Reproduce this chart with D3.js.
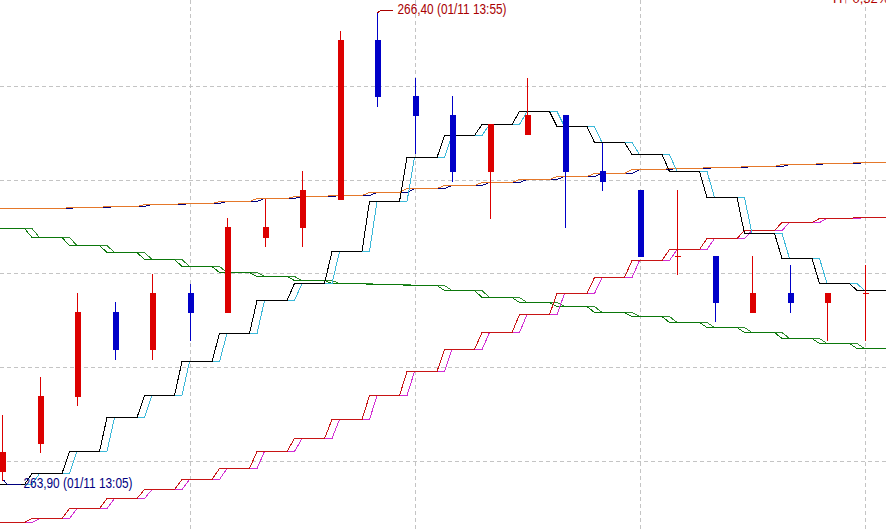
<!DOCTYPE html>
<html>
<head>
<meta charset="utf-8">
<script src="https://cdn.jsdelivr.net/npm/d3@7"></script>
<style>
  body { margin: 0; background: #fff; }
  svg { display: block; }
</style>
</head>
<body>
<svg id="chart"></svg>
<script>
// 5 min candles, 01/11
var times = ["13:05","13:10","13:15","13:20","13:25","13:30","13:35","13:40","13:45","13:50","13:55","14:00",
             "14:05","14:10","14:15","14:20","14:25","14:30","14:35","14:40","14:45","14:50","14:55","15:00"];

var open_prices  = [263.95,264.10,264.35,264.80,264.60,264.90,264.80,265.20,265.25,265.40,266.25,265.95,
                    265.85,265.55,265.75,265.85,265.55,265.45,265.10,265.10,264.80,264.90,264.85,264.90];
var high_prices  = [264.25,264.45,264.90,264.85,265.00,264.95,265.30,265.40,265.55,266.30,266.40,266.05,
                    265.95,265.80,266.05,265.85,265.70,265.45,265.45,265.10,265.10,265.05,264.90,265.05];
var low_prices   = [263.90,264.05,264.30,264.55,264.55,264.65,264.80,265.15,265.15,265.40,265.90,265.65,
                    265.50,265.30,265.75,265.25,265.45,265.10,265.00,264.75,264.80,264.80,264.65,264.65];
var close_prices = [264.05,264.35,264.80,264.60,264.90,264.80,265.25,265.25,265.45,266.25,265.95,265.85,
                    265.55,265.80,265.85,265.55,265.50,265.10,265.10,264.85,264.90,264.85,264.90,264.90];

// indicator lines (each drawn twice, the second one lagging)
var base_line   = [263.880,263.939,264.056,264.238,264.355,264.537,264.686,264.862,264.953,265.124,265.391,265.626,
                   265.744,265.802,265.872,265.792,265.706,265.642,265.551,265.413,265.220,265.087,264.953,264.916];
var orange_line = [265.352,265.352,265.358,265.366,265.375,265.382,265.390,265.406,265.418,265.423,265.441,265.458,
                   265.474,265.493,265.511,265.527,265.542,265.562,265.567,265.574,265.580,265.589,265.596,265.600];
var green_line  = [265.249,265.197,265.156,265.120,265.080,265.044,265.014,264.991,264.967,264.952,264.948,264.944,
                   264.916,264.880,264.853,264.830,264.800,264.777,264.747,264.720,264.692,264.661,264.634,264.605];
var red_line    = [263.677,263.697,263.750,263.807,263.853,263.907,263.964,264.058,264.128,264.225,264.355,264.483,
                   264.599,264.693,264.786,264.898,264.987,265.076,265.133,265.192,265.236,265.277,265.298,265.306];

var grid_prices = [264.0, 264.5, 265.0, 265.5, 266.0];
var grid_times = ["13:30", "14:00", "14:30", "15:00"];
var date_label = "01/11";
var corner_label = "H\u2191  0,32%";

var width = 886, height = 531;

var svg = d3.select("#chart").attr("width", width).attr("height", height);
svg.append("rect").attr("width", width).attr("height", height).attr("fill", "#fff");

var x = d3.scalePoint().domain(times).range([2.5, 865]);
var y = d3.scaleLinear().domain([264, 266]).range([461.5, 87]);

function cx(t) { return Math.floor(x(t)) + 0.5; }
function py(v) { return Math.round(y(v)) + 0.5; }

//grid
svg.append("g").selectAll("line")
    .data(grid_prices)
    .join("line")
    .attr("x1", 0).attr("x2", width)
    .attr("y1", d => Math.round(y(d)) - 0.5)
    .attr("y2", d => Math.round(y(d)) - 0.5)
    .attr("stroke", "#c4c4c4")
    .attr("stroke-dasharray", "4,3");

svg.append("g").selectAll("line")
    .data(grid_times)
    .join("line")
    .attr("x1", d => cx(d)).attr("x2", d => cx(d))
    .attr("y1", 0).attr("y2", height)
    .attr("stroke", "#c4c4c4")
    .attr("stroke-dasharray", "4,3");

//step lines: flat over each candle, short slope to the next one
function step_path(values, shift) {
    var d = "";
    values.forEach(function(v, k) {
        var xc = x(times[k]);
        var yy = py(v);
        if (k === 0) {
            d += "M" + (xc - 40 + shift) + "," + yy;
        } else {
            d += "L" + (xc - 8 + shift) + "," + yy;
        }
        d += "H" + (k === values.length - 1 ? width + 10 : xc + 22 + shift);
    });
    return d;
}

var line_defs = [
    {values: green_line,  colours: ["#2c8a2c", "#0b780b"]},
    {values: red_line,    colours: ["#d22ed2", "#c81414"]},
    {values: orange_line, colours: ["#00007f", "#e5782a"]},
    {values: base_line,   colours: ["#3cb8d8", "#000000"]}
];

var line_group = svg.append("g").attr("class", "lines");
line_defs.forEach(function(def) {
    line_group.append("path")
        .attr("d", step_path(def.values, 7.5))
        .attr("fill", "none")
        .attr("stroke", def.colours[0])
        .attr("stroke-width", 1)
        .attr("shape-rendering", "crispEdges");
    line_group.append("path")
        .attr("d", step_path(def.values, 0))
        .attr("fill", "none")
        .attr("stroke", def.colours[1])
        .attr("stroke-width", 1)
        .attr("shape-rendering", "crispEdges");
});

//candles
var candles = times.map(function(t, i) {
    return {time: t, o: open_prices[i], h: high_prices[i], l: low_prices[i], c: close_prices[i]};
});

var candle_group = svg.append("g").selectAll("g")
    .data(candles)
    .join("g")
    .attr("shape-rendering", "crispEdges");

candle_group.append("line")
    .attr("x1", d => cx(d.time)).attr("x2", d => cx(d.time))
    .attr("y1", d => Math.round(y(d.h)))
    .attr("y2", d => Math.round(y(d.l)) + 1)
    .attr("stroke", d => d.c < d.o ? "#0000c8" : "#dc0000");

candle_group.filter(d => d.c !== d.o)
    .append("rect")
    .attr("x", d => cx(d.time) - 3)
    .attr("width", 6)
    .attr("y", d => Math.round(y(Math.max(d.o, d.c))))
    .attr("height", d => Math.round(y(Math.min(d.o, d.c))) - Math.round(y(Math.max(d.o, d.c))) + 1)
    .attr("fill", d => d.c < d.o ? "#0000c8" : "#dc0000");

candle_group.filter(d => d.c === d.o)
    .append("line")
    .attr("x1", d => cx(d.time) - 3).attr("x2", d => cx(d.time) + 3)
    .attr("y1", d => py(d.o)).attr("y2", d => py(d.o))
    .attr("stroke", "#dc0000");

//high / low markers
var fmt = d3.format(".2f");
var max_i = d3.maxIndex(high_prices);
var min_i = d3.minIndex(low_prices);

var max_x = cx(times[max_i]), max_y = Math.round(y(high_prices[max_i]));
svg.append("path")
    .attr("d", "M" + max_x + "," + (max_y + 1) + "L" + (max_x + 3) + "," + (max_y - 1.5) + "H" + (max_x + 15))
    .attr("fill", "none").attr("stroke", "#a80000").attr("shape-rendering", "crispEdges");
svg.append("text")
    .attr("x", max_x + 20).attr("y", max_y + 2)
    .attr("font-family", "Liberation Sans, Arial, sans-serif")
    .attr("font-size", 14)
    .attr("textLength", 109).attr("lengthAdjust", "spacingAndGlyphs")
    .attr("fill", "#a80000")
    .text(fmt(high_prices[max_i]).replace(".", ",") + " (" + date_label + " " + times[max_i] + ")");

var min_x = cx(times[min_i]), min_y = Math.round(y(low_prices[min_i]));
svg.append("path")
    .attr("d", "M" + (min_x + 1) + "," + min_y + "L" + (min_x + 5) + "," + (min_y + 4.5) + "H" + (min_x + 18))
    .attr("fill", "none").attr("stroke", "#00007f").attr("shape-rendering", "crispEdges");
svg.append("text")
    .attr("x", min_x + 21).attr("y", min_y + 8)
    .attr("font-family", "Liberation Sans, Arial, sans-serif")
    .attr("font-size", 14)
    .attr("textLength", 109).attr("lengthAdjust", "spacingAndGlyphs")
    .attr("fill", "#00007f")
    .text(fmt(low_prices[min_i]).replace(".", ",") + " (" + date_label + " " + times[min_i] + ")");

//corner text, cut off by the top edge as in the source screen
svg.append("text")
    .attr("x", 833).attr("y", 3)
    .attr("font-family", "Liberation Sans, Arial, sans-serif")
    .attr("font-size", 13)
    .attr("fill", "#b00000")
    .text(corner_label);
</script>
</body>
</html>
